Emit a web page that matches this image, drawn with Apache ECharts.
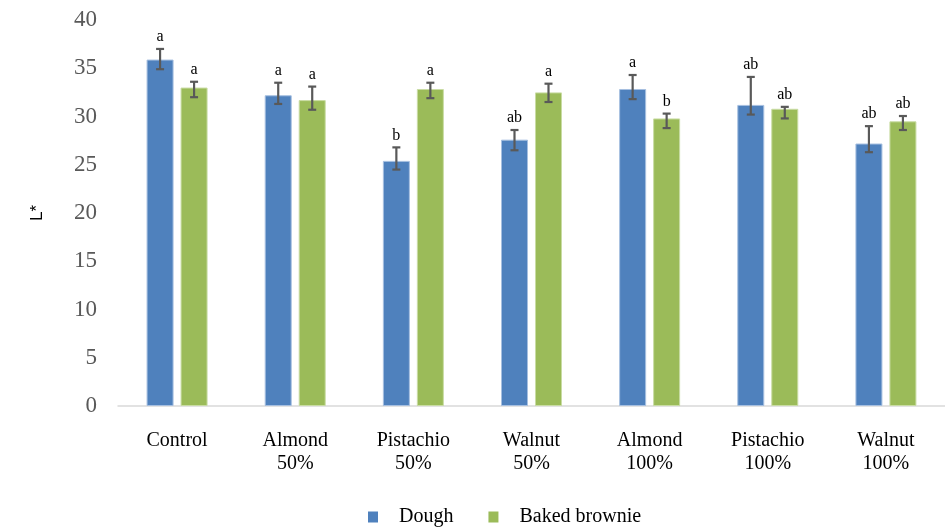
<!DOCTYPE html>
<html>
<head>
<meta charset="utf-8">
<script src="https://cdn.jsdelivr.net/npm/echarts@6/dist/echarts.min.js"></script>
<style>
  html, body { margin: 0; padding: 0; background: #fff; }
  #chart { width: 945px; height: 528px; }
</style>
</head>
<body>
<div id="chart"></div>
<script>
const categories = ['Control', 'Almond\n50%', 'Pistachio\n50%', 'Walnut\n50%', 'Almond\n100%', 'Pistachio\n100%', 'Walnut\n100%'];
const yTicks = [0, 5, 10, 15, 20, 25, 30, 35, 40];

// mean values
const dough = [35.9, 32.2, 25.4, 27.6, 32.85, 31.2, 27.2];
const baked = [33.0, 31.7, 32.85, 32.5, 29.8, 30.8, 29.5];
// error bar ends
const doughLow = [34.9, 31.3, 24.5, 26.5, 31.8, 30.2, 26.3];
const doughHigh = [37.0, 33.5, 26.8, 28.6, 34.3, 34.1, 29.0];
const bakedLow = [32.0, 30.7, 31.9, 31.5, 28.8, 29.8, 28.6];
const bakedHigh = [33.6, 33.1, 33.5, 33.4, 30.3, 31.0, 30.05];
// significance letters
const doughLetters = ['a', 'a', 'b', 'ab', 'a', 'ab', 'ab'];
const bakedLetters = ['a', 'a', 'a', 'a', 'b', 'ab', 'ab'];

const barW = 27;
const barGapPx = 7;
const barOffset = (barW + barGapPx) / 2;

function errorSeries(side, low, high, letters) {
  return {
    type: 'custom',
    z: 10,
    silent: true,
    data: categories.map((c, i) => [i, low[i], high[i]]),
    renderItem: function (params, api) {
      const i = api.value(0);
      const x = api.coord([i, 0])[0] + side * barOffset;
      const yl = api.coord([i, api.value(1)])[1];
      const yh = api.coord([i, api.value(2)])[1];
      const cap = 4;
      const ls = { stroke: '#595959', lineWidth: 2.2 };
      return {
        type: 'group',
        children: [
          { type: 'line', shape: { x1: x, y1: yl, x2: x, y2: yh }, style: ls },
          { type: 'line', shape: { x1: x - cap, y1: yh, x2: x + cap, y2: yh }, style: ls },
          { type: 'line', shape: { x1: x - cap, y1: yl, x2: x + cap, y2: yl }, style: ls },
          {
            type: 'text',
            style: {
              text: letters[i], x: x, y: yh - 4,
              align: 'center', verticalAlign: 'bottom',
              font: '16px "Liberation Serif"', fill: '#000'
            }
          }
        ]
      };
    }
  };
}

const myChart = echarts.init(document.getElementById('chart'));
const option = {
  backgroundColor: '#fff',
  animation: false,
  grid: { left: 118, right: -3, top: 20, bottom: 122 },
  legend: {
    top: 502,
    left: 363,
    icon: 'rect',
    itemWidth: 10,
    itemHeight: 11,
    itemGap: 35,
    itemStyle: { borderWidth: 0 },
    textStyle: { fontFamily: 'Liberation Serif', fontSize: 20, color: '#000', padding: [0, 0, 0, 16] },
    data: ['Dough', 'Baked brownie']
  },
  xAxis: {
    type: 'category',
    data: categories,
    axisLine: { lineStyle: { color: '#d9d9d9', width: 1.5 } },
    axisTick: { show: false },
    axisLabel: {
      margin: 23,
      fontFamily: 'Liberation Serif',
      fontSize: 20,
      lineHeight: 23,
      color: '#000',
      interval: 0
    }
  },
  yAxis: {
    type: 'value',
    min: yTicks[0],
    max: yTicks[yTicks.length - 1],
    interval: 5,
    name: 'L*',
    nameLocation: 'middle',
    nameRotate: 90,
    nameGap: 72,
    nameTextStyle: { fontFamily: 'Liberation Sans', fontSize: 17, color: '#000' },
    axisLine: { show: false },
    axisTick: { show: false },
    splitLine: { show: false },
    axisLabel: { margin: 21, fontFamily: 'Liberation Serif', fontSize: 23, color: '#595959' }
  },
  series: [
    {
      name: 'Dough',
      type: 'bar',
      data: dough,
      barWidth: barW,
      barGap: (barGapPx / barW * 100).toFixed(1) + '%',
      itemStyle: { color: '#4f81bd', borderColor: '#a6bfe0', borderWidth: 1 }
    },
    {
      name: 'Baked brownie',
      type: 'bar',
      data: baked,
      barWidth: barW,
      itemStyle: { color: '#9bbb59', borderColor: '#c9dca4', borderWidth: 1 }
    },
    errorSeries(-1, doughLow, doughHigh, doughLetters),
    errorSeries(1, bakedLow, bakedHigh, bakedLetters)
  ]
};
myChart.setOption(option);
</script>
</body>
</html>
